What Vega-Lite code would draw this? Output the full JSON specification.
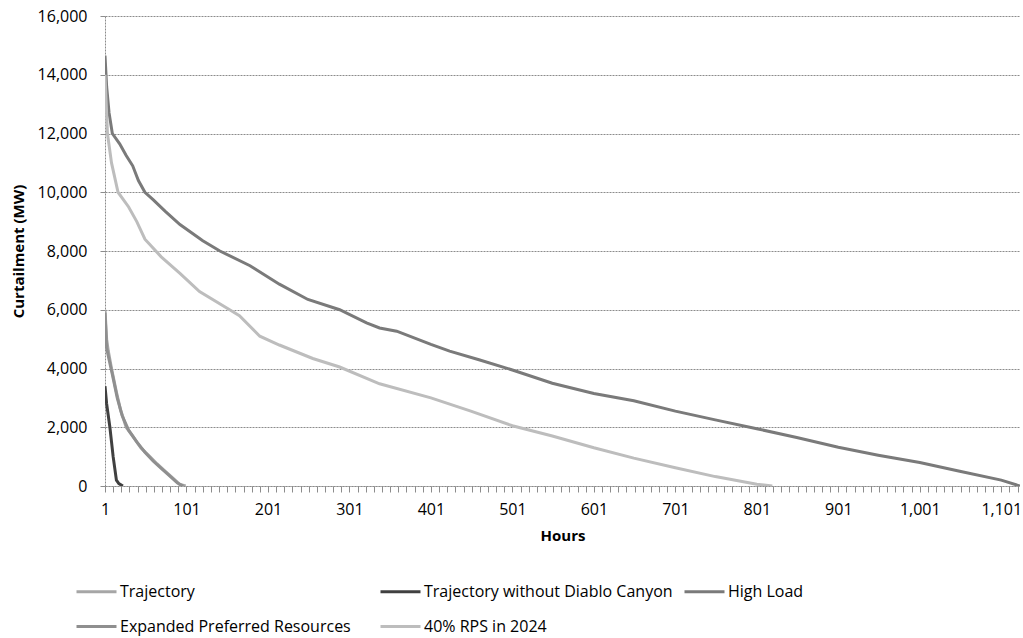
{
  "$schema": "https://vega.github.io/schema/vega-lite/v6.json",
  "width": 915,
  "height": 470,
  "autosize": {"type": "none"},
  "padding": {"left": 105, "top": 16, "right": 3, "bottom": 152},
  "background": "white",
  "config": {"font": "Open Sans", "view": {"stroke": null}},
  "datasets": {
    "curt": [
      {"series": "High Load", "hours": 1, "mw": 14650},
      {"series": "High Load", "hours": 3, "mw": 13600},
      {"series": "High Load", "hours": 6, "mw": 12700},
      {"series": "High Load", "hours": 10, "mw": 12000},
      {"series": "High Load", "hours": 19, "mw": 11650},
      {"series": "High Load", "hours": 27, "mw": 11250},
      {"series": "High Load", "hours": 35, "mw": 10900},
      {"series": "High Load", "hours": 42, "mw": 10400},
      {"series": "High Load", "hours": 50, "mw": 10000},
      {"series": "High Load", "hours": 60, "mw": 9750},
      {"series": "High Load", "hours": 75, "mw": 9350},
      {"series": "High Load", "hours": 93, "mw": 8900},
      {"series": "High Load", "hours": 121, "mw": 8350},
      {"series": "High Load", "hours": 142, "mw": 8000},
      {"series": "High Load", "hours": 179, "mw": 7500},
      {"series": "High Load", "hours": 215, "mw": 6870},
      {"series": "High Load", "hours": 250, "mw": 6350},
      {"series": "High Load", "hours": 289, "mw": 6000},
      {"series": "High Load", "hours": 322, "mw": 5550},
      {"series": "High Load", "hours": 338, "mw": 5380},
      {"series": "High Load", "hours": 359, "mw": 5270},
      {"series": "High Load", "hours": 401, "mw": 4820},
      {"series": "High Load", "hours": 424, "mw": 4590},
      {"series": "High Load", "hours": 460, "mw": 4300},
      {"series": "High Load", "hours": 501, "mw": 3950},
      {"series": "High Load", "hours": 550, "mw": 3500},
      {"series": "High Load", "hours": 601, "mw": 3150},
      {"series": "High Load", "hours": 650, "mw": 2900},
      {"series": "High Load", "hours": 701, "mw": 2550},
      {"series": "High Load", "hours": 750, "mw": 2250},
      {"series": "High Load", "hours": 801, "mw": 1950},
      {"series": "High Load", "hours": 850, "mw": 1650},
      {"series": "High Load", "hours": 901, "mw": 1320},
      {"series": "High Load", "hours": 950, "mw": 1050},
      {"series": "High Load", "hours": 1001, "mw": 800},
      {"series": "High Load", "hours": 1050, "mw": 500},
      {"series": "High Load", "hours": 1101, "mw": 200},
      {"series": "High Load", "hours": 1124, "mw": 0},
      {"series": "40% RPS in 2024", "hours": 1, "mw": 14000},
      {"series": "40% RPS in 2024", "hours": 4, "mw": 12000},
      {"series": "40% RPS in 2024", "hours": 9, "mw": 11000},
      {"series": "40% RPS in 2024", "hours": 17, "mw": 10000},
      {"series": "40% RPS in 2024", "hours": 30, "mw": 9500},
      {"series": "40% RPS in 2024", "hours": 40, "mw": 9000},
      {"series": "40% RPS in 2024", "hours": 50, "mw": 8400},
      {"series": "40% RPS in 2024", "hours": 70, "mw": 7800},
      {"series": "40% RPS in 2024", "hours": 93, "mw": 7240},
      {"series": "40% RPS in 2024", "hours": 117, "mw": 6620},
      {"series": "40% RPS in 2024", "hours": 154, "mw": 6000},
      {"series": "40% RPS in 2024", "hours": 166, "mw": 5800},
      {"series": "40% RPS in 2024", "hours": 191, "mw": 5100},
      {"series": "40% RPS in 2024", "hours": 215, "mw": 4800},
      {"series": "40% RPS in 2024", "hours": 256, "mw": 4340},
      {"series": "40% RPS in 2024", "hours": 289, "mw": 4050},
      {"series": "40% RPS in 2024", "hours": 338, "mw": 3480},
      {"series": "40% RPS in 2024", "hours": 401, "mw": 3000},
      {"series": "40% RPS in 2024", "hours": 450, "mw": 2550},
      {"series": "40% RPS in 2024", "hours": 501, "mw": 2050},
      {"series": "40% RPS in 2024", "hours": 550, "mw": 1700},
      {"series": "40% RPS in 2024", "hours": 601, "mw": 1300},
      {"series": "40% RPS in 2024", "hours": 650, "mw": 950},
      {"series": "40% RPS in 2024", "hours": 701, "mw": 620},
      {"series": "40% RPS in 2024", "hours": 750, "mw": 320},
      {"series": "40% RPS in 2024", "hours": 801, "mw": 60},
      {"series": "40% RPS in 2024", "hours": 820, "mw": 0},
      {"series": "Trajectory", "hours": 1, "mw": 6000},
      {"series": "Trajectory", "hours": 3, "mw": 5000},
      {"series": "Trajectory", "hours": 5, "mw": 4600},
      {"series": "Trajectory", "hours": 9, "mw": 4000},
      {"series": "Trajectory", "hours": 15, "mw": 3200},
      {"series": "Trajectory", "hours": 20, "mw": 2600},
      {"series": "Trajectory", "hours": 27, "mw": 2000},
      {"series": "Trajectory", "hours": 35, "mw": 1700},
      {"series": "Trajectory", "hours": 45, "mw": 1300},
      {"series": "Trajectory", "hours": 56, "mw": 1000},
      {"series": "Trajectory", "hours": 65, "mw": 750},
      {"series": "Trajectory", "hours": 75, "mw": 500},
      {"series": "Trajectory", "hours": 85, "mw": 250},
      {"series": "Trajectory", "hours": 93, "mw": 50},
      {"series": "Trajectory", "hours": 100, "mw": 0},
      {"series": "Expanded Preferred Resources", "hours": 1, "mw": 5900},
      {"series": "Expanded Preferred Resources", "hours": 3, "mw": 4700},
      {"series": "Expanded Preferred Resources", "hours": 6, "mw": 4300},
      {"series": "Expanded Preferred Resources", "hours": 10, "mw": 3800},
      {"series": "Expanded Preferred Resources", "hours": 16, "mw": 3000},
      {"series": "Expanded Preferred Resources", "hours": 22, "mw": 2400},
      {"series": "Expanded Preferred Resources", "hours": 30, "mw": 1900},
      {"series": "Expanded Preferred Resources", "hours": 40, "mw": 1500},
      {"series": "Expanded Preferred Resources", "hours": 50, "mw": 1150},
      {"series": "Expanded Preferred Resources", "hours": 60, "mw": 850},
      {"series": "Expanded Preferred Resources", "hours": 70, "mw": 600},
      {"series": "Expanded Preferred Resources", "hours": 80, "mw": 350},
      {"series": "Expanded Preferred Resources", "hours": 90, "mw": 100},
      {"series": "Expanded Preferred Resources", "hours": 97, "mw": 0},
      {"series": "Trajectory without Diablo Canyon", "hours": 1, "mw": 3400},
      {"series": "Trajectory without Diablo Canyon", "hours": 3, "mw": 2800},
      {"series": "Trajectory without Diablo Canyon", "hours": 5, "mw": 2400},
      {"series": "Trajectory without Diablo Canyon", "hours": 7, "mw": 2000},
      {"series": "Trajectory without Diablo Canyon", "hours": 9, "mw": 1500},
      {"series": "Trajectory without Diablo Canyon", "hours": 11, "mw": 1000},
      {"series": "Trajectory without Diablo Canyon", "hours": 13, "mw": 600},
      {"series": "Trajectory without Diablo Canyon", "hours": 15, "mw": 200},
      {"series": "Trajectory without Diablo Canyon", "hours": 18, "mw": 80},
      {"series": "Trajectory without Diablo Canyon", "hours": 23, "mw": 0}
    ]
  },
  "data": {"name": "curt"},
  "mark": {"type": "line", "strokeWidth": 3, "clip": true},
  "encoding": {
    "x": {
      "field": "hours",
      "type": "quantitative",
      "scale": {"domain": [1, 1124], "nice": false, "zero": false},
      "axis": {
        "title": "Hours",
        "titleFont": "Open Sans",
        "titleFontSize": 15,
        "titleFontWeight": "bold",
        "titleColor": "#000",
        "titlePadding": 11,
        "values": [1,11,21,31,41,51,61,71,81,91,101,111,121,131,141,151,161,171,181,191,201,211,221,231,241,251,261,271,281,291,301,311,321,331,341,351,361,371,381,391,401,411,421,431,441,451,461,471,481,491,501,511,521,531,541,551,561,571,581,591,601,611,621,631,641,651,661,671,681,691,701,711,721,731,741,751,761,771,781,791,801,811,821,831,841,851,861,871,881,891,901,911,921,931,941,951,961,971,981,991,1001,1011,1021,1031,1041,1051,1061,1071,1081,1091,1101,1111,1121],
        "labelExpr": "(datum.value - 1) % 100 === 0 ? format(datum.value, ',') : ''",
        "labelOverlap": false,
        "labelFlush": false,
        "labelFont": "Open Sans",
        "labelFontSize": 16,
        "labelColor": "#000",
        "labelPadding": 9,
        "tickSize": 6,
        "tickColor": "#8c8c8c",
        "domainColor": "#8c8c8c",
        "domainDash": [2, 1],
        "grid": false
      }
    },
    "y": {
      "field": "mw",
      "type": "quantitative",
      "scale": {"domain": [0, 16000], "nice": false},
      "axis": {
        "title": "Curtailment (MW)",
        "titleFont": "Open Sans",
        "titleFontSize": 15,
        "titleFontWeight": "bold",
        "titleColor": "#000",
        "titlePadding": 11,
        "values": [0, 2000, 4000, 6000, 8000, 10000, 12000, 14000, 16000],
        "format": ",.0f",
        "labelFont": "Open Sans",
        "labelFontSize": 16,
        "labelColor": "#000",
        "labelPadding": 13,
        "tickSize": 5,
        "tickColor": "#8c8c8c",
        "domainColor": "#8c8c8c",
        "domainDash": [2, 1],
        "grid": true,
        "gridColor": "#8c8c8c",
        "gridDash": [2, 1],
        "gridWidth": 1
      }
    },
    "color": {
      "field": "series",
      "type": "nominal",
      "scale": {
        "domain": ["Trajectory", "Trajectory without Diablo Canyon", "High Load", "Expanded Preferred Resources", "40% RPS in 2024"],
        "range": ["#a6a6a6", "#404040", "#7a7a7a", "#8f8f8f", "#bdbdbd"]
      },
      "legend": {
        "orient": "none",
        "legendX": -30,
        "legendY": 554,
        "direction": "horizontal",
        "columns": 3,
        "title": null,
        "symbolType": "stroke",
        "symbolSize": 1600,
        "symbolStrokeWidth": 3,
        "labelFont": "Open Sans",
        "labelFontSize": 16,
        "labelColor": "#000",
        "labelLimit": 400,
        "labelOffset": 2,
        "gridAlign": "all",
        "columnPadding": 5,
        "rowPadding": 5
      }
    }
  }
}
